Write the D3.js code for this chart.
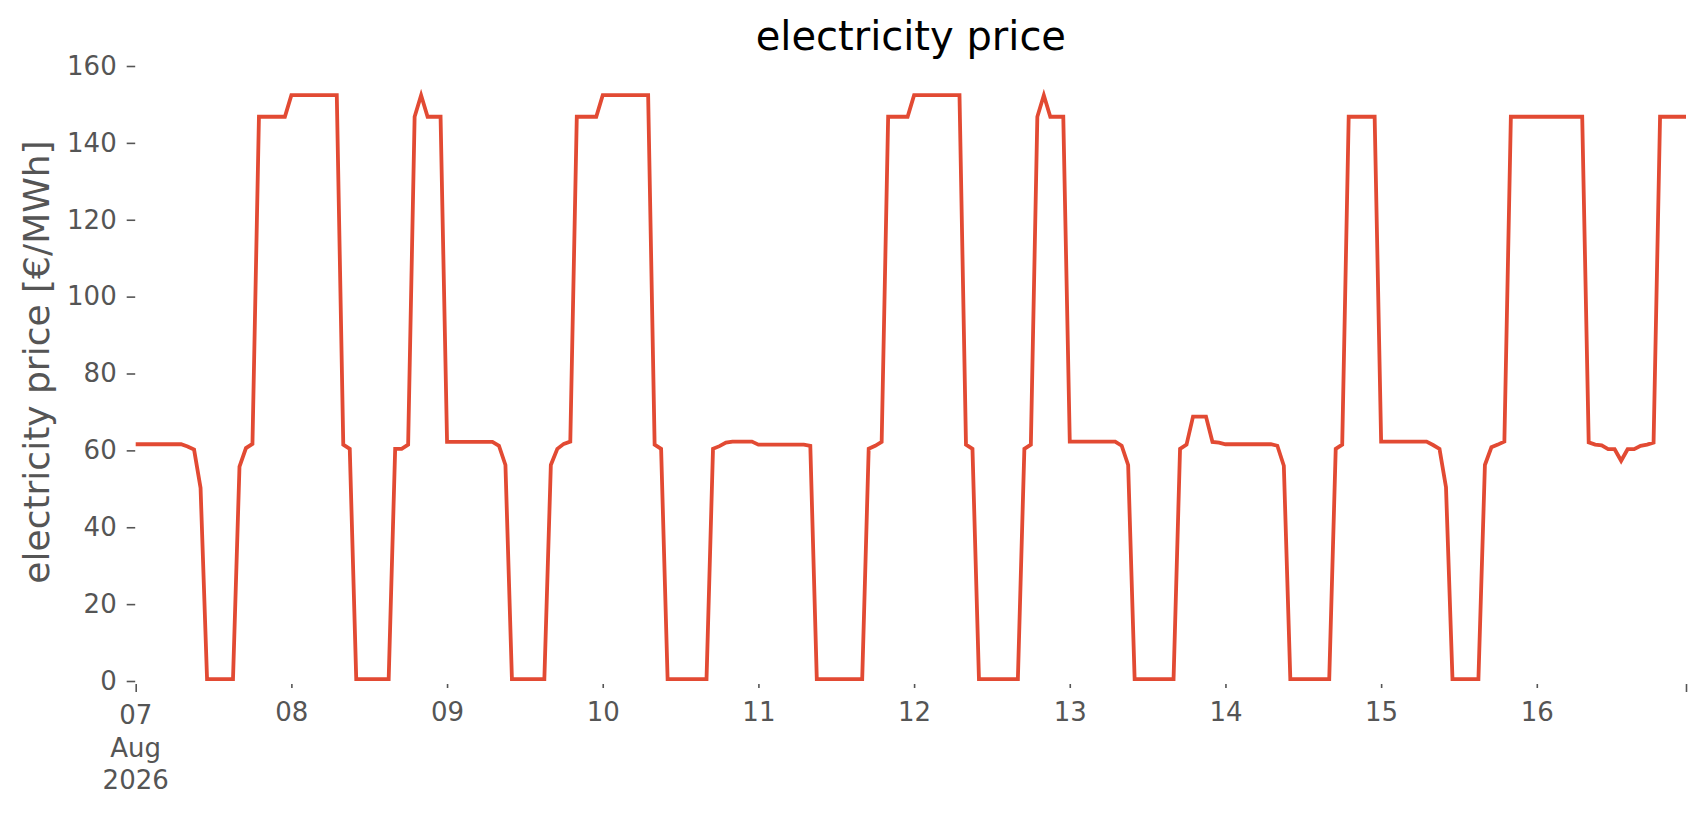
<!DOCTYPE html>
<meta charset="utf-8">
<html>
    <head>
        <script src="https://d3js.org/d3.v7.min.js"></script>
        <style>
            body { margin: 0; background: #fff; }
            svg { display: block; font-family: "DejaVu Sans", sans-serif; }
        </style>
    </head>

    <body>
        <div id="viz"></div>

    <script>
        // hourly prices, one array per day (00:00 .. 23:00)
        const aug07 = [61.6, 61.6, 61.6, 61.6, 61.6, 61.6, 61.6, 61.6, 61.0, 60.2, 50.2, 0.5,
                       0.5, 0.5, 0.5, 0.5, 55.8, 60.6, 61.7, 146.8, 146.8, 146.8, 146.8, 146.8];
        const aug08 = [152.4, 152.4, 152.4, 152.4, 152.4, 152.4, 152.4, 152.4, 61.5, 60.4, 0.5, 0.5,
                       0.5, 0.5, 0.5, 0.5, 60.4, 60.4, 61.5, 146.8, 152.4, 146.8, 146.8, 146.8];
        const aug09 = [62.2, 62.2, 62.2, 62.2, 62.2, 62.2, 62.2, 62.2, 61.2, 56.2, 0.5, 0.5,
                       0.5, 0.5, 0.5, 0.5, 56.2, 60.4, 61.7, 62.3, 146.8, 146.8, 146.8, 146.8];
        const aug10 = [152.4, 152.4, 152.4, 152.4, 152.4, 152.4, 152.4, 152.4, 61.5, 60.4, 0.5, 0.5,
                       0.5, 0.5, 0.5, 0.5, 0.5, 60.4, 61.1, 62.0, 62.3, 62.3, 62.3, 62.3];
        const aug11 = [61.5, 61.5, 61.5, 61.5, 61.5, 61.5, 61.5, 61.5, 61.2, 0.5, 0.5, 0.5,
                       0.5, 0.5, 0.5, 0.5, 0.5, 60.4, 61.2, 62.2, 146.8, 146.8, 146.8, 146.8];
        const aug12 = [152.4, 152.4, 152.4, 152.4, 152.4, 152.4, 152.4, 152.4, 61.5, 60.4, 0.5, 0.5,
                       0.5, 0.5, 0.5, 0.5, 0.5, 60.4, 61.5, 146.8, 152.4, 146.8, 146.8, 146.8];
        const aug13 = [62.3, 62.3, 62.3, 62.3, 62.3, 62.3, 62.3, 62.3, 61.2, 56.2, 0.5, 0.5,
                       0.5, 0.5, 0.5, 0.5, 0.5, 60.4, 61.5, 68.8, 68.8, 68.8, 62.2, 62.0];
        const aug14 = [61.6, 61.6, 61.6, 61.6, 61.6, 61.6, 61.6, 61.6, 61.2, 56.0, 0.5, 0.5,
                       0.5, 0.5, 0.5, 0.5, 0.5, 60.4, 61.5, 146.8, 146.8, 146.8, 146.8, 146.8];
        const aug15 = [62.3, 62.3, 62.3, 62.3, 62.3, 62.3, 62.3, 62.3, 61.4, 60.4, 50.4, 0.5,
                       0.5, 0.5, 0.5, 0.5, 56.2, 60.8, 61.5, 62.3, 146.8, 146.8, 146.8, 146.8];
        const aug16 = [146.8, 146.8, 146.8, 146.8, 146.8, 146.8, 146.8, 146.8, 62.1, 61.5, 61.3, 60.3,
                       60.3, 57.3, 60.3, 60.3, 61.2, 61.5, 62.0, 146.8, 146.8, 146.8, 146.8, 146.8];

        const days = [aug07, aug08, aug09, aug10, aug11, aug12, aug13, aug14, aug15, aug16];
        const yTicks = [0, 20, 40, 60, 80, 100, 120, 140, 160];
        const titleText = "electricity price";
        const yLabelText = "electricity price [€/MWh]";

        const start = new Date(Date.UTC(2026, 7, 7, 0));
        const data = [];
        days.forEach((day, i) => day.forEach((v, hr) => {
            data.push({t: d3.utcHour.offset(start, i * 24 + hr), v: v});
        }));

        const w = 1706,
            h = 815;
        const lineColor = "#E24A33",
            tickColor = "#555555";
        const plotLeft = 135.7, plotRight = 1686,
            plotTop = 66, zeroY = 681, axisY = 684;
        const tickFont = "26px";

        const svg = d3.select("#viz")
            .append("svg")
            .attr("width", w)
            .attr("height", h);

        const x = d3.scaleUtc()
            .domain(d3.extent(data, d => d.t))
            .range([plotLeft, plotRight]);
        const y = d3.scaleLinear()
            .domain([0, 160])
            .range([zeroY, plotTop]);

        // y axis
        const yAxis = svg.append("g")
            .attr("transform", `translate(${plotLeft - 0.5},0)`)
            .call(d3.axisLeft(y).tickValues(yTicks).tickSize(8.5).tickPadding(10));
        yAxis.select(".domain").remove();
        yAxis.selectAll("line").attr("stroke", tickColor).attr("stroke-width", 1.6);
        yAxis.selectAll("text")
            .attr("fill", tickColor)
            .style("font-size", tickFont)
            .style("font-family", "DejaVu Sans");

        // x axis: day ticks (short) and range ends (long)
        const dayTicks = d3.utcDay.range(d3.utcDay.offset(start, 1), x.domain()[1]);
        const xMinor = svg.append("g")
            .attr("transform", `translate(0,${axisY})`)
            .call(d3.axisBottom(x).tickValues(dayTicks).tickSize(4).tickFormat(d3.utcFormat("%d")));
        xMinor.select(".domain").remove();
        xMinor.selectAll("line").attr("stroke", tickColor).attr("stroke-width", 1.6);
        xMinor.selectAll("text")
            .attr("y", 37).attr("dy", null)
            .attr("fill", tickColor)
            .style("font-size", tickFont)
            .style("font-family", "DejaVu Sans");

        const xMajor = svg.append("g")
            .attr("transform", `translate(0,${axisY})`)
            .call(d3.axisBottom(x).tickValues(x.domain()).tickSize(8).tickFormat(""));
        xMajor.select(".domain").remove();
        xMajor.selectAll("line").attr("stroke", tickColor).attr("stroke-width", 1.6);

        const startLabel = svg.append("text")
            .attr("x", x(start))
            .attr("y", axisY + 40)
            .attr("text-anchor", "middle")
            .attr("fill", tickColor)
            .style("font-size", tickFont);
        ["07", "Aug", "2026"].forEach((s, i) => {
            startLabel.append("tspan")
                .attr("x", x(start))
                .attr("dy", i === 0 ? 0 : 32.5)
                .text(s);
        });

        // price line
        const line = d3.line()
            .x(d => x(d.t))
            .y(d => y(d.v));
        svg.append("path")
            .datum(data)
            .attr("fill", "none")
            .attr("stroke", lineColor)
            .attr("stroke-width", 3.8)
            .attr("stroke-linejoin", "miter")
            .attr("d", line);

        // title and y label
        svg.append("text")
            .attr("x", (plotLeft + plotRight) / 2)
            .attr("y", 50)
            .attr("text-anchor", "middle")
            .attr("fill", "#000")
            .style("font-size", "40px")
            .text(titleText);

        svg.append("text")
            .attr("transform", "translate(36,362) rotate(-90)")
            .attr("text-anchor", "middle")
            .attr("dy", "0.35em")
            .attr("fill", tickColor)
            .style("font-size", "36px")
            .text(yLabelText);
    </script>
    </body>
</html>
